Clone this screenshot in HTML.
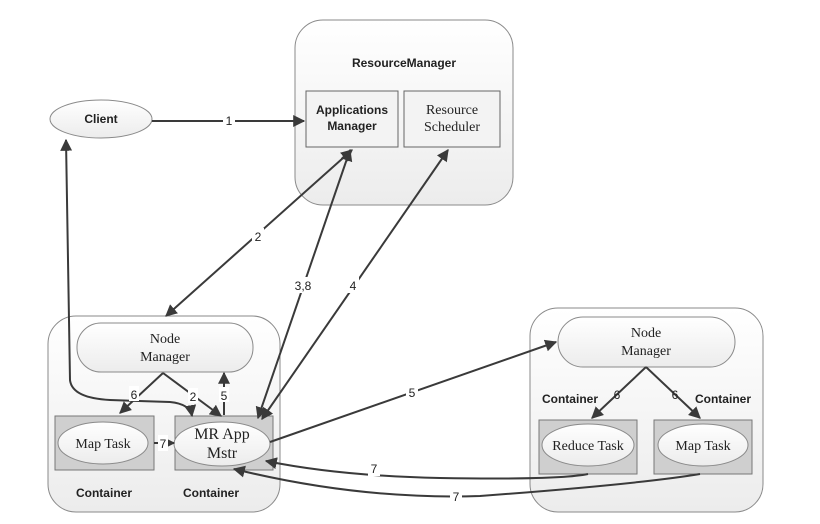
<!DOCTYPE html>
<html><head><style>
body{margin:0;background:#fff;}
svg{display:block;font-family:"Liberation Serif",serif;}
.s{font-family:"Liberation Sans",sans-serif;}
</style></head><body>
<svg width="820" height="524" viewBox="0 0 820 524" xmlns="http://www.w3.org/2000/svg">
<defs>
<marker id="a" viewBox="0 0 10 10" refX="9" refY="5" markerWidth="6" markerHeight="6" orient="auto-start-reverse"><path d="M0,0 L10,5 L0,10 z" fill="#3a3a3a"/></marker>
<linearGradient id="g" x1="0" y1="0" x2="0" y2="1"><stop offset="0" stop-color="#fff"/><stop offset="1" stop-color="#ececec"/></linearGradient>
</defs>
<g stroke="#8a8a8a" stroke-width="1">
<rect x="295" y="20" width="218" height="185" rx="28" fill="url(#g)"/>
<rect x="306" y="91" width="92" height="56" fill="#f3f3f3" stroke="#666"/>
<rect x="404" y="91" width="96" height="56" fill="#f3f3f3" stroke="#666"/>
<ellipse cx="101" cy="119" rx="51" ry="19" fill="url(#g)"/>
<rect x="48" y="316" width="232" height="196" rx="28" fill="url(#g)"/>
<rect x="77" y="323" width="176" height="49" rx="24" fill="url(#g)"/>
<rect x="55" y="416" width="99" height="54" fill="#cfcfcf" stroke="#777"/>
<ellipse cx="103" cy="443" rx="45" ry="21" fill="url(#g)"/>
<rect x="175" y="416" width="98" height="54" fill="#cfcfcf" stroke="#777"/>
<ellipse cx="222" cy="444" rx="48" ry="22" fill="url(#g)"/>
<rect x="530" y="308" width="233" height="204" rx="28" fill="url(#g)"/>
<rect x="558" y="317" width="177" height="50" rx="25" fill="url(#g)"/>
<rect x="539" y="420" width="98" height="54" fill="#cfcfcf" stroke="#777"/>
<ellipse cx="588" cy="445" rx="46" ry="21" fill="url(#g)"/>
<rect x="654" y="420" width="98" height="54" fill="#cfcfcf" stroke="#777"/>
<ellipse cx="703" cy="445" rx="45" ry="21" fill="url(#g)"/>
</g>
<g fill="none" stroke="#3a3a3a" stroke-width="2">
<line x1="152" y1="121" x2="304" y2="121" marker-end="url(#a)"/>
<line x1="352" y1="150" x2="166" y2="316" marker-start="url(#a)" marker-end="url(#a)"/>
<line x1="258" y1="418" x2="350" y2="150" marker-start="url(#a)" marker-end="url(#a)"/>
<line x1="262" y1="419" x2="448" y2="150" marker-start="url(#a)" marker-end="url(#a)"/>
<line x1="270" y1="442" x2="556" y2="342" marker-end="url(#a)"/>
<path d="M66,140 L70,380 Q72,398 110,400 L170,402 Q190,404 192,416" marker-start="url(#a)" marker-end="url(#a)"/>
<path d="M163,373 L120,413" marker-end="url(#a)"/>
<path d="M163,373 L221,416" marker-end="url(#a)"/>
<path d="M224,415 L224,373" marker-end="url(#a)"/>
<path d="M154,443 L174,443" marker-end="url(#a)"/>
<path d="M646,367 L592,418" marker-end="url(#a)"/>
<path d="M646,367 L700,418" marker-end="url(#a)"/>
<path d="M588,474 Q560,480 440,478 Q340,476 266,461" marker-end="url(#a)"/>
<path d="M700,474 Q640,484 480,496 Q360,500 234,469" marker-end="url(#a)"/>
</g>
<g font-size="12" fill="#222" class="s" text-anchor="middle">
<rect x="223" y="112" width="12" height="16" fill="#fff"/><text x="229" y="125">1</text>
<rect x="252" y="228" width="12" height="16" fill="#fff"/><text x="258" y="241">2</text>
<rect x="291" y="277" width="24" height="16" fill="#fff"/><text x="303" y="290">3,8</text>
<rect x="347" y="277" width="12" height="16" fill="#fff"/><text x="353" y="290">4</text>
<rect x="406" y="384" width="12" height="16" fill="#fff"/><text x="412" y="397">5</text>
<rect x="129" y="386" width="10" height="15" fill="#fff"/><text x="134" y="399">6</text>
<rect x="188" y="388" width="10" height="15" fill="#fff"/><text x="193" y="401">2</text>
<rect x="219" y="387" width="10" height="15" fill="#fff"/><text x="224" y="400">5</text>
<rect x="158" y="435" width="10" height="16" fill="#fff"/><text x="163" y="448">7</text>
<text x="617" y="399">6</text><text x="675" y="399">6</text>
<rect x="368" y="460" width="12" height="16" fill="#fff"/><text x="374" y="473">7</text>
<rect x="450" y="488" width="12" height="16" fill="#fff"/><text x="456" y="501">7</text>
</g>
<g font-size="12" fill="#222" class="s" font-weight="bold" text-anchor="middle">
<text x="404" y="67">ResourceManager</text>
<text x="352" y="114">Applications</text><text x="352" y="130">Manager</text>
<text x="104" y="497">Container</text><text x="211" y="497">Container</text>
<text x="570" y="403">Container</text><text x="723" y="403">Container</text>
</g>
<g font-size="14" fill="#222" text-anchor="middle">
<text x="452" y="114">Resource</text><text x="452" y="131">Scheduler</text>
<text x="101" y="123" class="s" font-size="12" font-weight="bold">Client</text>
<text x="165" y="343">Node</text><text x="165" y="361">Manager</text>
<text x="103" y="448">Map Task</text>
<text x="222" y="439" font-size="16">MR App</text><text x="222" y="458" font-size="16">Mstr</text>
<text x="646" y="337">Node</text><text x="646" y="355">Manager</text>
<text x="588" y="450">Reduce Task</text>
<text x="703" y="450">Map Task</text>
</g>
</svg>
</body></html>
